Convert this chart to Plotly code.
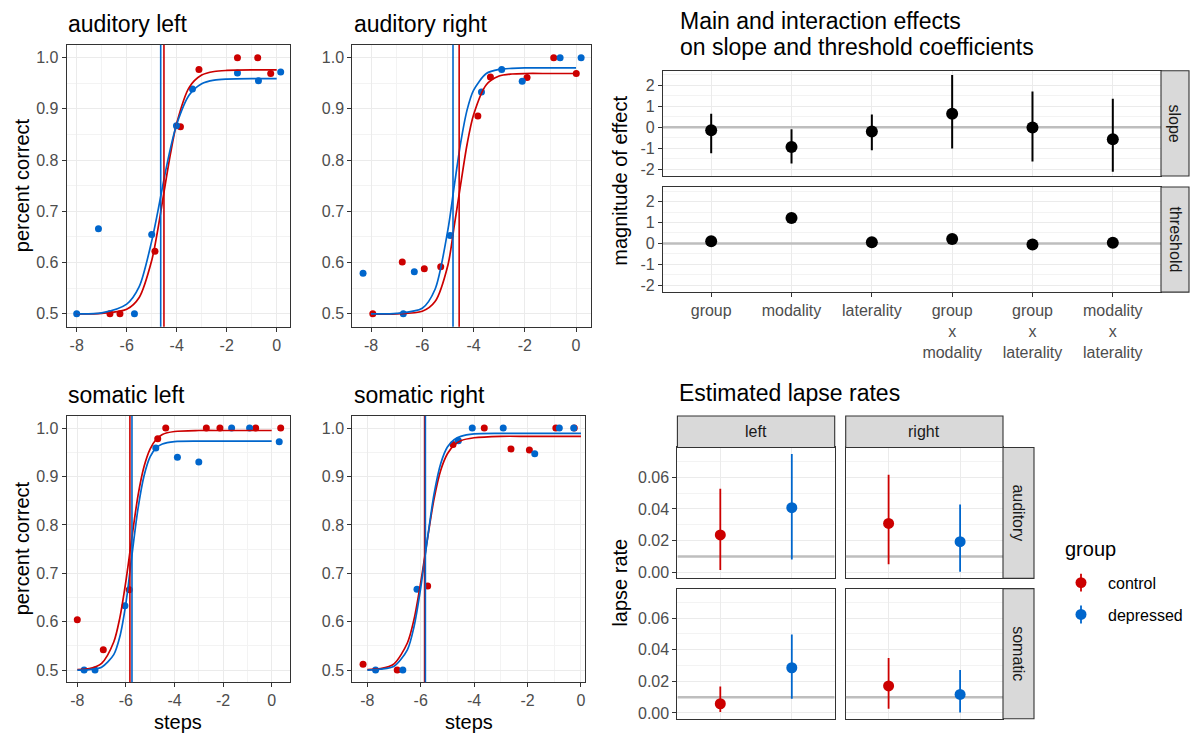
import plotly.graph_objects as go

W, H = 1192, 738
RED = "#CC0000"
BLUE = "#0066CC"
FONT = "Liberation Sans, Arial, Helvetica, sans-serif"
AX_LINE = "#333333"
GRID = "#EBEBEB"
MINOR = "#F3F3F3"
TICKCOL = "#4D4D4D"
REFCOL = "#BEBEBE"

# ---------------- psychometric data (points) ----------------
AL_RED_X = [-6.67, -6.27, -4.87, -3.85, -3.11, -1.57, -0.76, -0.24]
AL_RED_Y = [0.500, 0.500, 0.622, 0.865, 0.977, 1.000, 1.000, 0.969]
AL_BLUE_X = [-8.00, -7.13, -5.69, -5.00, -4.01, -3.37, -1.57, -0.73, 0.16]
AL_BLUE_Y = [0.500, 0.666, 0.500, 0.655, 0.867, 0.939, 0.970, 0.955, 0.972]

AR_RED_X = [-7.93, -6.78, -5.92, -5.28, -3.83, -3.34, -1.91, -0.87, 0.01]
AR_RED_Y = [0.500, 0.601, 0.588, 0.592, 0.886, 0.962, 0.961, 1.000, 0.969]
AR_BLUE_X = [-8.31, -6.74, -6.31, -4.91, -3.69, -2.90, -2.10, -0.62, 0.20]
AR_BLUE_Y = [0.579, 0.500, 0.582, 0.653, 0.933, 0.977, 0.954, 1.000, 1.000]

SL_RED_X = [-8.00, -6.93, -5.86, -4.69, -4.36, -2.69, -2.13, -0.66, 0.37]
SL_RED_Y = [0.604, 0.542, 0.666, 0.978, 1.000, 1.000, 1.000, 1.000, 1.000]
SL_BLUE_X = [-7.72, -7.27, -6.04, -4.77, -3.88, -3.00, -1.65, -0.91, 0.31]
SL_BLUE_Y = [0.500, 0.500, 0.633, 0.959, 0.940, 0.930, 1.000, 1.000, 0.972]

SR_RED_X = [-8.16, -6.88, -5.74, -4.79, -3.62, -2.62, -1.93, -0.94, -0.25]
SR_RED_Y = [0.512, 0.500, 0.674, 0.966, 1.000, 0.957, 0.955, 1.000, 1.000]
SR_BLUE_X = [-7.69, -6.67, -6.14, -4.59, -4.07, -2.91, -1.73, -0.81, -0.27]
SR_BLUE_Y = [0.500, 0.500, 0.667, 0.974, 1.000, 1.000, 0.947, 1.000, 1.000]

# ---------------- fitted curves ----------------
CURVE_X_AUD = [-8, -7, -6, -5.5, -5, -4.75, -4.5, -4.25, -4, -3.5, -3, -2.5, -2, -1, 0]
AL_RED_FIT = [0.500, 0.501, 0.509, 0.532, 0.604, 0.666, 0.740, 0.812, 0.872, 0.942, 0.966, 0.973, 0.975, 0.976, 0.976]
AL_BLUE_FIT = [0.500, 0.502, 0.519, 0.553, 0.642, 0.701, 0.765, 0.823, 0.870, 0.927, 0.949, 0.956, 0.958, 0.959, 0.959]
AR_RED_FIT = [0.500, 0.500, 0.505, 0.524, 0.595, 0.672, 0.753, 0.831, 0.888, 0.947, 0.964, 0.968, 0.969, 0.969, 0.969]
AR_BLUE_FIT = [0.500, 0.501, 0.511, 0.548, 0.664, 0.750, 0.834, 0.898, 0.936, 0.969, 0.977, 0.979, 0.980, 0.980, 0.980]

CURVE_X_SOM = [-8, -7.5, -7, -6.5, -6.25, -6, -5.75, -5.5, -5.25, -5, -4.75, -4.5, -4, -3, -2, -1, 0]
SL_RED_FIT = [0.501, 0.503, 0.514, 0.558, 0.608, 0.684, 0.775, 0.861, 0.921, 0.957, 0.977, 0.987, 0.993, 0.995, 0.995, 0.995, 0.995]
SL_BLUE_FIT = [0.500, 0.501, 0.506, 0.532, 0.569, 0.638, 0.738, 0.834, 0.902, 0.941, 0.959, 0.967, 0.972, 0.973, 0.973, 0.973, 0.973]
SR_RED_FIT = [0.501, 0.503, 0.513, 0.556, 0.605, 0.681, 0.770, 0.854, 0.913, 0.947, 0.965, 0.974, 0.980, 0.983, 0.983, 0.983, 0.983]
SR_BLUE_FIT = [0.500, 0.502, 0.508, 0.542, 0.590, 0.670, 0.770, 0.864, 0.927, 0.961, 0.976, 0.983, 0.988, 0.989, 0.989, 0.989, 0.989]

# thresholds (vertical lines): auditory left, auditory right, somatic left, somatic right
THR_RED = [-4.51, -4.56, -5.835, -5.855]
THR_BLUE = [-4.64, -4.80, -5.75, -5.825]

PSY_TITLES = ["auditory left", "auditory right", "somatic left", "somatic right"]
X_TICKS = [-8, -6, -4, -2, 0]
X_TICKTEXT = ["-8", "-6", "-4", "-2", "0"]
Y_TICKS = [0.5, 0.6, 0.7, 0.8, 0.9, 1.0]
Y_TICKTEXT = ["0.5", "0.6", "0.7", "0.8", "0.9", "1.0"]

# ---------------- effects ----------------
EFFECT_LABELS = ["group", "modality", "laterality", "group<br>x<br>modality",
                 "group<br>x<br>laterality", "modality<br>x<br>laterality"]
SLOPE_EST = [-0.14, -0.94, -0.21, 0.64, -0.01, -0.58]
SLOPE_LO = [-1.24, -1.73, -1.10, -1.02, -1.64, -2.13]
SLOPE_HI = [0.64, -0.10, 0.61, 2.50, 1.71, 1.36]
THRESH_EST = [0.10, 1.21, 0.05, 0.21, -0.05, 0.03]
THRESH_LO = [0.00, 1.05, -0.05, 0.11, -0.15, -0.07]
THRESH_HI = [0.20, 1.37, 0.15, 0.31, 0.05, 0.13]
EFF_TICKS = [-2, -1, 0, 1, 2]
EFF_TICKTEXT = ["-2", "-1", "0", "1", "2"]
EFF_REF = 0.0
EFF_XRANGE = [-0.6, 5.6]

# ---------------- lapse rates ----------------
GROUPS = ["control", "depressed"]
LAPSE_AUD_LEFT = [0.0236, 0.0408]
LAPSE_AUD_LEFT_LO = [0.0015, 0.0082]
LAPSE_AUD_LEFT_HI = [0.0527, 0.0746]
LAPSE_AUD_RIGHT = [0.0309, 0.0194]
LAPSE_AUD_RIGHT_LO = [0.0052, 0.0004]
LAPSE_AUD_RIGHT_HI = [0.0615, 0.0428]
LAPSE_SOM_LEFT = [0.0058, 0.0286]
LAPSE_SOM_LEFT_LO = [0.0006, 0.0089]
LAPSE_SOM_LEFT_HI = [0.0167, 0.0496]
LAPSE_SOM_RIGHT = [0.0171, 0.0117]
LAPSE_SOM_RIGHT_LO = [0.0027, 0.0002]
LAPSE_SOM_RIGHT_HI = [0.0348, 0.0271]
LAPSE_REF = 0.01
LAPSE_XRANGE = [-0.6, 1.6]
LAPSE_TICKS = [0.0, 0.02, 0.04, 0.06]
LAPSE_TICKTEXT = ["0.00", "0.02", "0.04", "0.06"]


def px_x(a, b):
    return [a / W, b / W]


def px_y(top, bot):
    return [1 - bot / H, 1 - top / H]


def base_axis(**kw):
    d = dict(showline=True, mirror=True, linecolor=AX_LINE, linewidth=1.1,
             showgrid=True, gridcolor=GRID, gridwidth=1.2, zeroline=False,
             ticks="outside", ticklen=4, tickwidth=1, tickcolor=AX_LINE,
             tickfont=dict(size=16, color=TICKCOL, family=FONT), layer="below traces")
    d.update(kw)
    return d


fig = go.Figure()
layout = dict(width=W, height=H, margin=dict(l=0, r=0, t=0, b=0),
              paper_bgcolor="white", plot_bgcolor="white", showlegend=False,
              font=dict(family=FONT, color="black"))
shapes = []
annotations = []


def ann(text, xp, yp, size, xanchor="left", angle=0, color="black"):
    annotations.append(dict(text=text, x=xp / W, y=1 - yp / H, xref="paper", yref="paper",
                            showarrow=False, xanchor=xanchor, yanchor="middle",
                            textangle=angle, font=dict(size=size, color=color, family=FONT)))


# ---------------- psychometric panels ----------------
psy = [
    (AL_RED_X, AL_RED_Y, AL_BLUE_X, AL_BLUE_Y, CURVE_X_AUD, AL_RED_FIT, AL_BLUE_FIT),
    (AR_RED_X, AR_RED_Y, AR_BLUE_X, AR_BLUE_Y, CURVE_X_AUD, AR_RED_FIT, AR_BLUE_FIT),
    (SL_RED_X, SL_RED_Y, SL_BLUE_X, SL_BLUE_Y, CURVE_X_SOM, SL_RED_FIT, SL_BLUE_FIT),
    (SR_RED_X, SR_RED_Y, SR_BLUE_X, SR_BLUE_Y, CURVE_X_SOM, SR_RED_FIT, SR_BLUE_FIT),
]
psy_dom = [((66.7, 290), (45, 328)), ((352.3, 591), (45, 328)),
           ((66.7, 290), (417.7, 685)), ((352.3, 585), (417.7, 685))]
psy_xr = [[-8.40, 0.532], [-8.73, 0.585], [-8.436, 0.753], [-8.562, 0.152]]

for i, (rx, ry, bx, by, cx, rf, bf) in enumerate(psy):
    n = i + 1
    xa = "x" if n == 1 else f"x{n}"
    ya = "y" if n == 1 else f"y{n}"
    fig.add_trace(go.Scatter(x=rx, y=ry, mode="markers", marker=dict(color=RED, size=7),
                             xaxis=xa, yaxis=ya, hoverinfo="skip"))
    fig.add_trace(go.Scatter(x=bx, y=by, mode="markers", marker=dict(color=BLUE, size=7),
                             xaxis=xa, yaxis=ya, hoverinfo="skip"))
    fig.add_trace(go.Scatter(x=cx, y=rf, mode="lines",
                             line=dict(color=RED, width=1.7, shape="spline", smoothing=0.8),
                             xaxis=xa, yaxis=ya, hoverinfo="skip"))
    fig.add_trace(go.Scatter(x=cx, y=bf, mode="lines",
                             line=dict(color=BLUE, width=1.7, shape="spline", smoothing=0.8),
                             xaxis=xa, yaxis=ya, hoverinfo="skip"))
    for thr, col in ((THR_RED[i], RED), (THR_BLUE[i], BLUE)):
        shapes.append(dict(type="line", xref=xa, yref=f"{ya} domain", x0=thr, x1=thr, y0=0, y1=1,
                           line=dict(color=col, width=1.6), layer="above"))
    (xa0, xa1), (yt, yb) = psy_dom[i]
    key = "" if n == 1 else str(n)
    layout["xaxis" + key] = base_axis(domain=px_x(xa0, xa1), anchor=ya, range=psy_xr[i],
                                      tickvals=X_TICKS, ticktext=X_TICKTEXT,
                                      minor=dict(tickvals=[-7, -5, -3, -1], showgrid=True,
                                                 gridcolor=MINOR, gridwidth=0.8, ticks=""))
    layout["yaxis" + key] = base_axis(domain=px_y(yt, yb), anchor=xa, range=[0.475, 1.025],
                                      tickvals=Y_TICKS, ticktext=Y_TICKTEXT,
                                      minor=dict(tickvals=[0.55, 0.65, 0.75, 0.85, 0.95], showgrid=True,
                                                 gridcolor=MINOR, gridwidth=0.8, ticks=""))
    ann(PSY_TITLES[i], xa0 - 0.3, yt - 21, 23)

ann("percent correct", 21.5, 186.5, 20, xanchor="center", angle=-90)
ann("percent correct", 21.5, 551, 20, xanchor="center", angle=-90)
ann("steps", 178.3, 725, 20, xanchor="center")
ann("steps", 469, 725, 20, xanchor="center")

# ---------------- effects panels ----------------
eff_pos = list(range(len(EFFECT_LABELS)))
for n, est, lo, hi, (yt, yb) in ((5, SLOPE_EST, SLOPE_LO, SLOPE_HI, (71, 176.7)),
                                 (6, THRESH_EST, THRESH_LO, THRESH_HI, (187.7, 293.3))):
    xa, ya = f"x{n}", f"y{n}"
    fig.add_trace(go.Scatter(x=EFF_XRANGE, y=[EFF_REF, EFF_REF], mode="lines",
                             line=dict(color=REFCOL, width=2.5), xaxis=xa, yaxis=ya,
                             hoverinfo="skip"))
    fig.add_trace(go.Scatter(
        x=eff_pos, y=est, mode="markers", marker=dict(color="black", size=12),
        error_y=dict(type="data", symmetric=False,
                     array=[h - e for h, e in zip(hi, est)],
                     arrayminus=[e - l for e, l in zip(est, lo)],
                     width=0, thickness=2, color="black"),
        xaxis=xa, yaxis=ya, hoverinfo="skip"))
    bottom = n == 6
    layout[f"xaxis{n}"] = base_axis(domain=px_x(663, 1161), anchor=ya, range=EFF_XRANGE,
                                    tickvals=eff_pos, ticktext=EFFECT_LABELS,
                                    showticklabels=bottom, ticks="outside" if bottom else "")
    layout[f"yaxis{n}"] = base_axis(domain=px_y(yt, yb), anchor=xa, range=[-2.33, 2.70],
                                    tickvals=EFF_TICKS, ticktext=EFF_TICKTEXT,
                                    minor=dict(tickvals=[-1.5, -0.5, 0.5, 1.5, 2.5], showgrid=True,
                                               gridcolor=MINOR, gridwidth=0.8, ticks=""))
    shapes.append(dict(type="rect", xref="paper", yref="paper",
                       x0=1161 / W, x1=1189 / W, y0=1 - yb / H, y1=1 - yt / H,
                       fillcolor="#D9D9D9", line=dict(color=AX_LINE, width=1.1), layer="above"))

ann("slope", 1175, 124, 16, xanchor="center", angle=90, color="#1A1A1A")
ann("threshold", 1175, 240.5, 16, xanchor="center", angle=90, color="#1A1A1A")
ann("Main and interaction effects", 677.5, 21, 23)
ann("on slope and threshold coefficients", 677.5, 47, 23)
ann("magnitude of effect", 620.5, 182, 20, xanchor="center", angle=-90)

# ---------------- lapse panels ----------------
lapse_panels = [
    (7, LAPSE_AUD_LEFT, LAPSE_AUD_LEFT_LO, LAPSE_AUD_LEFT_HI, (677.4, 834.7), (449.3, 580.7), True),
    (8, LAPSE_AUD_RIGHT, LAPSE_AUD_RIGHT_LO, LAPSE_AUD_RIGHT_HI, (845.7, 1003), (449.3, 580.7), False),
    (9, LAPSE_SOM_LEFT, LAPSE_SOM_LEFT_LO, LAPSE_SOM_LEFT_HI, (677.4, 834.7), (591, 721.7), True),
    (10, LAPSE_SOM_RIGHT, LAPSE_SOM_RIGHT_LO, LAPSE_SOM_RIGHT_HI, (845.7, 1003), (591, 721.7), False),
]
grp_pos = list(range(len(GROUPS)))
for n, est, lo, hi, (xa0, xa1), (yt, yb), left in lapse_panels:
    xa, ya = f"x{n}", f"y{n}"
    fig.add_trace(go.Scatter(x=LAPSE_XRANGE, y=[LAPSE_REF, LAPSE_REF], mode="lines",
                             line=dict(color=REFCOL, width=2.5), xaxis=xa, yaxis=ya,
                             hoverinfo="skip"))
    for g, col in zip(grp_pos, (RED, BLUE)):
        fig.add_trace(go.Scatter(
            x=[g], y=[est[g]], mode="markers", marker=dict(color=col, size=11),
            error_y=dict(type="data", symmetric=False, array=[hi[g] - est[g]],
                         arrayminus=[est[g] - lo[g]], width=0, thickness=1.8, color=col),
            xaxis=xa, yaxis=ya, hoverinfo="skip"))
    layout[f"xaxis{n}"] = base_axis(domain=px_x(xa0, xa1), anchor=ya, range=LAPSE_XRANGE,
                                    tickvals=grp_pos, showticklabels=False, ticks="")
    layout[f"yaxis{n}"] = base_axis(domain=px_y(yt, yb), anchor=xa, range=[-0.0037, 0.0787],
                                    tickvals=LAPSE_TICKS, ticktext=LAPSE_TICKTEXT,
                                    showticklabels=left, ticks="outside" if left else "",
                                    minor=dict(tickvals=[0.01, 0.03, 0.05, 0.07], showgrid=True,
                                               gridcolor=MINOR, gridwidth=0.8, ticks=""))

# strips for lapse
for (x0, x1), label in (((677.4, 834.7), "left"), ((845.7, 1003), "right")):
    shapes.append(dict(type="rect", xref="paper", yref="paper", x0=x0 / W, x1=x1 / W,
                       y0=1 - 449.3 / H, y1=1 - 417.7 / H, fillcolor="#D9D9D9",
                       line=dict(color=AX_LINE, width=1.1), layer="above"))
    ann(label, (x0 + x1) / 2, 433.5, 16, xanchor="center", color="#1A1A1A")
for (yt, yb), label in (((449.3, 580.7), "auditory"), ((591, 721.7), "somatic")):
    shapes.append(dict(type="rect", xref="paper", yref="paper", x0=1003 / W, x1=1034 / W,
                       y0=1 - yb / H, y1=1 - yt / H, fillcolor="#D9D9D9",
                       line=dict(color=AX_LINE, width=1.1), layer="above"))
    ann(label, 1018.5, (yt + yb) / 2, 16, xanchor="center", angle=90, color="#1A1A1A")

ann("Estimated lapse rates", 677, 395, 23)
ann("lapse rate", 620.5, 585.5, 20, xanchor="center", angle=-90)

# legend (manual)
ann("group", 1062.5, 551, 20)
for yc, col, label in ((585, RED, GROUPS[0]), (617, BLUE, GROUPS[1])):
    shapes.append(dict(type="line", xref="paper", yref="paper", x0=1081 / W, x1=1081 / W,
                       y0=1 - (yc + 9) / H, y1=1 - (yc - 9) / H, line=dict(color=col, width=1.8)))
    shapes.append(dict(type="circle", xref="paper", yref="paper", x0=(1081 - 5.5) / W, x1=(1081 + 5.5) / W,
                       y0=1 - (yc + 5.5) / H, y1=1 - (yc - 5.5) / H, fillcolor=col, line=dict(width=0)))
    ann(label, 1106, yc + 1, 16)

layout["shapes"] = shapes
layout["annotations"] = annotations
fig.update_layout(**layout)
fig.write_html("out.html")
